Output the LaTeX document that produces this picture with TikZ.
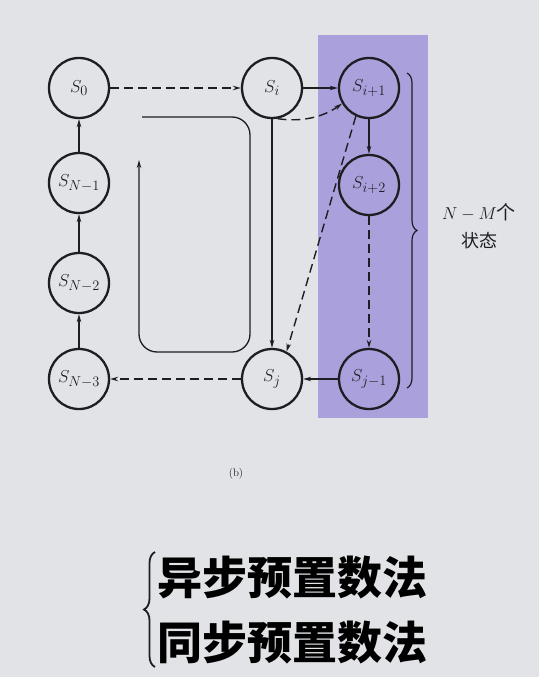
\documentclass[tikz,border=0pt]{standalone}
\usepackage{fontspec}
\newfontfamily\cjk{Noto Sans CJK SC}
\usetikzlibrary{arrows.meta,decorations.pathreplacing}
\definecolor{bg}{RGB}{226,227,231}
\definecolor{lav}{RGB}{170,161,220}
\definecolor{ink}{RGB}{30,30,34}
\begin{document}
\begin{tikzpicture}[x=1pt,y=-1pt,
  st/.style={circle,draw=ink,line width=2.3pt,minimum size=60pt,inner sep=0pt,text=ink,font=\fontsize{19}{19}\selectfont},
  ar/.style={draw=ink,line width=1.4pt,-{Stealth[length=8pt,width=4.5pt]}},
  da/.style={ar,dash pattern=on 9pt off 5pt},
  loopline/.style={draw=ink,line width=1.3pt},
  brc/.style={draw=ink,line width=1.2pt,decorate}]
\fill[bg] (0,0) rectangle (539,677);
\fill[lav] (318,35) rectangle (428,418);
% nodes
\node[st] (S0) at (79,88) {$S_0$};
\node[st] (Si) at (272,88) {$S_i$};
\node[st] (Si1) at (369,88) {$S_{i+1}$};
\node[st] (Si2) at (369,185) {$S_{i+2}$};
\node[st] (Sj1) at (369,379) {$S_{j-1}$};
\node[st] (Sj) at (272,379) {$S_j$};
\node[st] (SN3) at (79,379) {$S_{N-3}$};
\node[st] (SN2) at (79,283) {$S_{N-2}$};
\node[st] (SN1) at (79,183) {$S_{N-1}$};
% connectors
\draw[da] (S0) -- (Si);
\draw[ar] (Si) -- (Si1);
\draw[ar] (Si1) -- (Si2);
\draw[da] (Si2) -- (Sj1);
\draw[ar] (Sj1) -- (Sj);
\draw[da] (Sj) -- (SN3);
\draw[ar] (SN3) -- (SN2);
\draw[ar] (SN2) -- (SN1);
\draw[ar] (SN1) -- (S0);
\draw[ar] (Si.south) -- (Sj.north);
\draw[da] (Si.-80) .. controls (300,122) and (322,118) .. (Si1.-150);
\draw[da] (Si1.-115) -- (Sj.62);
% inner loop
\draw[loopline,rounded corners=18pt,-{Stealth[length=8pt,width=4.5pt]}] (142,117) -| (250,352) -| (139,160);
% brace and label
\draw[brc,decoration={brace,amplitude=10pt}] (407,73) -- (407,388);
\node[text=ink,font=\fontsize{19}{19}\selectfont] (lab1) at (479,212) {$N-M$\cjk 个};
\node[text=ink,font=\fontsize{18}{18}\selectfont\cjk] (lab2) at (479,241) {状态};
\node[text=ink,font=\fontsize{11}{11}\selectfont] (b) at (236,474) {(b)};
% bottom
\draw[brc,line width=1.8pt,decoration={brace,amplitude=11pt}] (155,667) -- (155,552);
\node[anchor=west,inner sep=0pt,text=black,font=\fontsize{45}{45}\selectfont\cjk\bfseries] (t1) at (157,578) {异步预置数法};
\node[anchor=west,inner sep=0pt,text=black,font=\fontsize{45}{45}\selectfont\cjk\bfseries] (t2) at (157,643) {同步预置数法};
\end{tikzpicture}
\end{document}
